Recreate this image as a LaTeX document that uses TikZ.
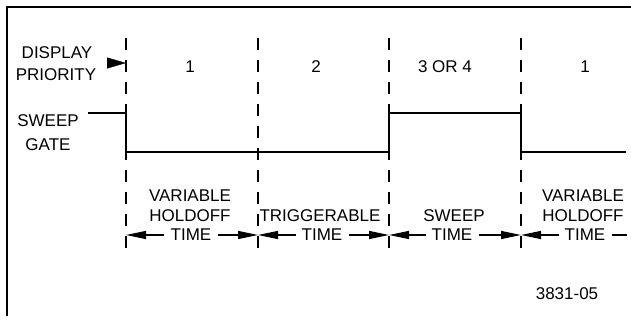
\documentclass[tikz,border=0pt]{standalone}
\usepackage{fontspec}
\setmainfont{Liberation Sans}
\usetikzlibrary{arrows.meta}

\begin{document}
\begin{tikzpicture}[x=1pt, y=-1pt, >={Triangle[length=20pt,width=8pt]},
    every node/.style={font=\fontsize{17}{19}\selectfont, inner sep=0pt},
    dimlabel/.style={inner xsep=6pt},
    boundary/.style={line width=1.2pt, dash pattern=on 12pt off 10pt},
    gate/.style={line width=2.6pt}]
    \useasboundingbox (0,0) rectangle (631,320);

    % 1. frame
    \draw[line width=1.4pt] (7,316) -- (7,7) -- (631,7);

    % 2. interval boundaries
    \foreach \name/\x in {b1/126, b2/258, b3/389, b4/521} {
        \coordinate (\name-top) at (\x,38);
        \coordinate (\name-bot) at (\x,248);
        \coordinate (\name-dim) at (\x,235);
        \draw[boundary] (\name-top) -- (\name-bot);
    }

    % 3. display priority
    \node (disp) at (57,53) {DISPLAY};
    \node (prio) at (56,75) {PRIORITY};
    \coordinate (prio-tip) at (126,63);
    \draw[-{Triangle[length=19pt,width=11pt]}] ([xshift=-19pt]prio-tip) -- (prio-tip);

    \node (p1) at (190,67) {1};
    \node (p2) at (316,67) {2};
    \node (p3) at (445,67) {3 OR 4};
    \node (p4) at (585,67) {1};

    % 4. sweep gate
    \node (sweep) at (48,121) {SWEEP};
    \node (gatetxt) at (48,145) {GATE};
    \draw[gate] (88,113) -- (126,113) -- (126,152) -- (389,152) -- (389,113)
        -- (521,113) -- (521,152) -- (626,152);

    % 5. time intervals
    \node (var1) at (190,196) {VARIABLE};
    \node (hold1) at (190,216) {HOLDOFF};
    \node (trig) at (320,216) {TRIGGERABLE};
    \node (swp) at (454,216) {SWEEP};
    \node (var2) at (583,196) {VARIABLE};
    \node (hold2) at (583,216) {HOLDOFF};

    \node[dimlabel] (t1) at (191,235) {TIME};
    \node[dimlabel] (t2) at (322,235) {TIME};
    \node[dimlabel] (t3) at (452,235) {TIME};
    \node[dimlabel] (t4) at (585,235) {TIME};
    \coordinate (t4-end) at (627,235);

    \draw[line width=1.2pt, <-] (b1-dim) -- (t1);
    \draw[line width=1.2pt, ->] (t1) -- (b2-dim);
    \draw[line width=1.2pt, <-] (b2-dim) -- (t2);
    \draw[line width=1.2pt, ->] (t2) -- (b3-dim);
    \draw[line width=1.2pt, <-] (b3-dim) -- (t3);
    \draw[line width=1.2pt, ->] (t3) -- (b4-dim);
    \draw[line width=1.2pt, <-] (b4-dim) -- (t4);
    \draw[line width=1.2pt] (t4) -- (t4-end);

    % 6. figure number
    \node (fig) at (567,294) {3831-05};
\end{tikzpicture}
\end{document}
